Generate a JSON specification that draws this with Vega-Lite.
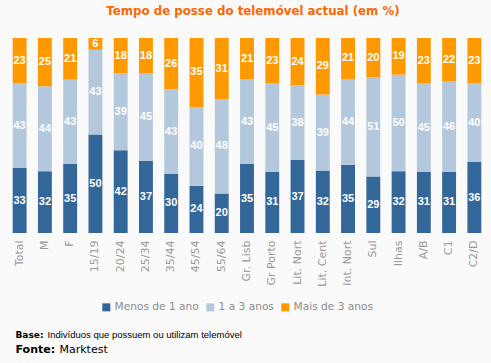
{
  "$schema": "https://vega.github.io/schema/vega-lite/v6.json",
  "width": 480,
  "height": 195,
  "autosize": "none",
  "padding": {"left": 7, "top": 38, "right": 4, "bottom": 130},
  "background": "#FAFAFA",
  "config": {"view": {"stroke": null}},
  "title": {"text": "Tempo de posse do telemóvel actual (em %)", "color": "#FF6600", "font": "DejaVu Sans", "fontSize": 11.8, "fontWeight": "bold", "anchor": "middle", "frame": "group", "offset": 20, "dx": 6},
  "data": {"values": [
    {"g":"Total","s":"Menos de 1 ano","k":1,"v":33},{"g":"Total","s":"1 a 3 anos","k":2,"v":43},{"g":"Total","s":"Mais de 3 anos","k":3,"v":23},
    {"g":"M","s":"Menos de 1 ano","k":1,"v":32},{"g":"M","s":"1 a 3 anos","k":2,"v":44},{"g":"M","s":"Mais de 3 anos","k":3,"v":25},
    {"g":"F","s":"Menos de 1 ano","k":1,"v":35},{"g":"F","s":"1 a 3 anos","k":2,"v":43},{"g":"F","s":"Mais de 3 anos","k":3,"v":21},
    {"g":"15/19","s":"Menos de 1 ano","k":1,"v":50},{"g":"15/19","s":"1 a 3 anos","k":2,"v":43},{"g":"15/19","s":"Mais de 3 anos","k":3,"v":6},
    {"g":"20/24","s":"Menos de 1 ano","k":1,"v":42},{"g":"20/24","s":"1 a 3 anos","k":2,"v":39},{"g":"20/24","s":"Mais de 3 anos","k":3,"v":18},
    {"g":"25/34","s":"Menos de 1 ano","k":1,"v":37},{"g":"25/34","s":"1 a 3 anos","k":2,"v":45},{"g":"25/34","s":"Mais de 3 anos","k":3,"v":18},
    {"g":"35/44","s":"Menos de 1 ano","k":1,"v":30},{"g":"35/44","s":"1 a 3 anos","k":2,"v":43},{"g":"35/44","s":"Mais de 3 anos","k":3,"v":26},
    {"g":"45/54","s":"Menos de 1 ano","k":1,"v":24},{"g":"45/54","s":"1 a 3 anos","k":2,"v":40},{"g":"45/54","s":"Mais de 3 anos","k":3,"v":35},
    {"g":"55/64","s":"Menos de 1 ano","k":1,"v":20},{"g":"55/64","s":"1 a 3 anos","k":2,"v":48},{"g":"55/64","s":"Mais de 3 anos","k":3,"v":31},
    {"g":"Gr. Lisb","s":"Menos de 1 ano","k":1,"v":35},{"g":"Gr. Lisb","s":"1 a 3 anos","k":2,"v":43},{"g":"Gr. Lisb","s":"Mais de 3 anos","k":3,"v":21},
    {"g":"Gr Porto","s":"Menos de 1 ano","k":1,"v":31},{"g":"Gr Porto","s":"1 a 3 anos","k":2,"v":45},{"g":"Gr Porto","s":"Mais de 3 anos","k":3,"v":23},
    {"g":"Lit. Nort","s":"Menos de 1 ano","k":1,"v":37},{"g":"Lit. Nort","s":"1 a 3 anos","k":2,"v":38},{"g":"Lit. Nort","s":"Mais de 3 anos","k":3,"v":24},
    {"g":"Lit. Cent","s":"Menos de 1 ano","k":1,"v":32},{"g":"Lit. Cent","s":"1 a 3 anos","k":2,"v":39},{"g":"Lit. Cent","s":"Mais de 3 anos","k":3,"v":29},
    {"g":"Int. Nort","s":"Menos de 1 ano","k":1,"v":35},{"g":"Int. Nort","s":"1 a 3 anos","k":2,"v":44},{"g":"Int. Nort","s":"Mais de 3 anos","k":3,"v":21},
    {"g":"Sul","s":"Menos de 1 ano","k":1,"v":29},{"g":"Sul","s":"1 a 3 anos","k":2,"v":51},{"g":"Sul","s":"Mais de 3 anos","k":3,"v":20},
    {"g":"Ilhas","s":"Menos de 1 ano","k":1,"v":32},{"g":"Ilhas","s":"1 a 3 anos","k":2,"v":50},{"g":"Ilhas","s":"Mais de 3 anos","k":3,"v":19},
    {"g":"A/B","s":"Menos de 1 ano","k":1,"v":31},{"g":"A/B","s":"1 a 3 anos","k":2,"v":45},{"g":"A/B","s":"Mais de 3 anos","k":3,"v":23},
    {"g":"C1","s":"Menos de 1 ano","k":1,"v":31},{"g":"C1","s":"1 a 3 anos","k":2,"v":46},{"g":"C1","s":"Mais de 3 anos","k":3,"v":22},
    {"g":"C2/D","s":"Menos de 1 ano","k":1,"v":36},{"g":"C2/D","s":"1 a 3 anos","k":2,"v":40},{"g":"C2/D","s":"Mais de 3 anos","k":3,"v":23}
  ]},
  "transform": [
    {"stack": "v", "groupby": ["g"], "sort": [{"field": "k", "order": "ascending"}], "offset": "normalize", "as": ["y0", "y1"]},
    {"calculate": "(datum.y0 + datum.y1) / 2", "as": "ym"}
  ],
  "layer": [
    {
      "mark": {"type": "bar"},
      "encoding": {
        "x": {"field": "g", "type": "nominal", "sort": null,
          "scale": {"paddingInner": 0.45, "paddingOuter": 0.225},
          "axis": {"orient": "bottom", "labelAngle": -90, "ticks": false, "domain": false, "grid": false, "labelPadding": 7, "labelFont": "DejaVu Sans", "labelFontSize": 11, "labelColor": "#999999",
            "title": "Base:", "titleFont": "DejaVu Sans", "titleFontSize": 9, "titleFontWeight": "bold", "titleColor": "#000000", "titleX": 8, "titleY": 101, "titleAlign": "left", "titleBaseline": "middle", "titleAngle": 0}},
        "y": {"field": "y0", "type": "quantitative", "scale": {"domain": [0, 1], "nice": false},
          "axis": {"orient": "left", "labels": false, "ticks": false, "domain": false, "grid": false,
            "title": "Fonte:", "titleFont": "DejaVu Sans", "titleFontSize": 11, "titleFontWeight": "bold", "titleColor": "#000000", "titleAngle": 0, "titleAlign": "left", "titleBaseline": "middle", "titleX": 8, "titleY": 311}},
        "y2": {"field": "y1"},
        "color": {"field": "s", "type": "nominal", "sort": ["Menos de 1 ano", "1 a 3 anos", "Mais de 3 anos"],
          "scale": {"domain": ["Menos de 1 ano", "1 a 3 anos", "Mais de 3 anos"], "range": ["#336699", "#B3C8DD", "#FF9900"]},
          "legend": {"title": null, "orient": "none", "direction": "horizontal", "legendX": 94, "legendY": 264, "symbolType": "square", "symbolSize": 64, "symbolStrokeWidth": 0, "symbolOpacity": 1, "labelFont": "DejaVu Sans", "labelFontSize": 10.6, "labelColor": "#8C8C8C", "labelOffset": 3, "columnPadding": 6}}
      }
    },
    {
      "mark": {"type": "text", "color": "#FFFFFF", "font": "Liberation Sans", "fontSize": 11, "fontWeight": "bold", "baseline": "middle"},
      "encoding": {
        "x": {"field": "g", "type": "nominal", "sort": null,
          "scale": {"paddingInner": 0.45, "paddingOuter": 0.225},
          "axis": {"orient": "top", "labels": false, "ticks": false, "domain": false, "grid": false,
            "title": "Indivíduos que possuem ou utilizam telemóvel", "titleFont": "Liberation Sans", "titleFontSize": 9.5, "titleFontWeight": "normal", "titleColor": "#000000", "titleX": 40, "titleY": 296, "titleAlign": "left", "titleBaseline": "middle", "titleAngle": 0}},
        "y": {"field": "ym", "type": "quantitative", "scale": {"domain": [0, 1], "nice": false},
          "axis": {"orient": "right", "labels": false, "ticks": false, "domain": false, "grid": false,
            "title": "Marktest", "titleFont": "DejaVu Sans", "titleFontSize": 11, "titleFontWeight": "normal", "titleColor": "#000000", "titleAngle": 0, "titleAlign": "left", "titleBaseline": "middle", "titleX": -428, "titleY": 311}},
        "text": {"field": "v", "type": "quantitative"}
      }
    }
  ],
  "resolve": {"scale": {"x": "independent", "y": "independent"}, "axis": {"x": "independent", "y": "independent"}}
}
